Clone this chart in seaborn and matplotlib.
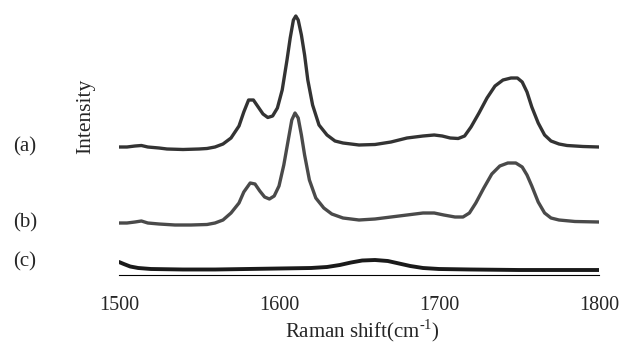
import matplotlib
matplotlib.use("Agg")
import matplotlib.pyplot as plt
import seaborn as sns
import pandas as pd

# Raman spectra (arbitrary intensity units, offset traces)
x_a = [1500, 1505, 1510, 1514, 1518, 1525, 1530, 1540, 1550, 1555, 1560, 1565, 1570, 1575,
       1578, 1581, 1584, 1587, 1590, 1593, 1596, 1599, 1602, 1605, 1607, 1609, 1610.5, 1612,
       1614, 1616, 1618, 1621, 1625, 1630, 1635, 1640, 1650, 1660, 1670, 1680, 1690, 1697,
       1702, 1707, 1712, 1716, 1720, 1725, 1730, 1735, 1740, 1745, 1749, 1752, 1755, 1758,
       1762, 1766, 1770, 1775, 1780, 1790, 1800]
y_a_px = [147, 147, 146, 145.5, 147, 148, 149, 149.5, 149, 148.5, 147, 144, 138, 126,
          112, 100, 100, 107, 114, 117.5, 116, 108, 90, 60, 38, 20, 16, 20,
          35, 55, 80, 105, 125, 135, 141, 143, 145, 144.5, 142, 138, 136, 135,
          136, 138, 138.5, 136, 127, 113, 98, 86, 80, 78, 78, 82, 92, 107,
          123, 135, 141, 144, 145.5, 146.5, 147]

x_b = [1500, 1505, 1510, 1514, 1518, 1525, 1535, 1545, 1555, 1560, 1565, 1570, 1575, 1578,
       1582, 1585, 1588, 1591, 1594, 1597, 1600, 1603, 1606, 1608, 1610, 1612, 1614, 1616,
       1619, 1623, 1628, 1633, 1640, 1650, 1660, 1670, 1680, 1690, 1697, 1703, 1710, 1715,
       1719, 1723, 1728, 1733, 1738, 1743, 1748, 1752, 1755, 1758, 1762, 1766, 1770, 1775,
       1785, 1800]
y_b_px = [223, 223, 222, 221, 223, 224, 225, 225, 224.5, 223, 220, 213, 203, 192,
          183, 184, 191, 197, 199, 196, 186, 165, 138, 120, 113, 118, 135, 155,
          180, 198, 208, 214, 218, 220, 219, 217, 215, 213, 213, 215, 217, 217,
          213, 203, 188, 174, 166, 163, 163, 167, 175, 186, 202, 213, 218, 220,
          221.5, 222]

x_c = [1500, 1503, 1507, 1512, 1520, 1540, 1560, 1580, 1600, 1620, 1630, 1638, 1645, 1652,
       1660, 1668, 1675, 1682, 1690, 1700, 1720, 1750, 1800]
y_c_px = [262, 264, 266.5, 268, 269, 269.5, 269.5, 269, 268.5, 268, 267, 265, 262.5, 260.5,
          260, 261, 263.5, 266, 268, 269, 269.5, 270, 270]

BASE = 275
int_a = [BASE - v for v in y_a_px]
int_b = [BASE - v for v in y_b_px]
int_c = [BASE - v for v in y_c_px]

trace_labels = ["(a)", "(b)", "(c)"]
xticks = [1500, 1600, 1700, 1800]

sns.set_style("white")
plt.rcParams["font.family"] = ["Liberation Serif", "DejaVu Serif"]
plt.rcParams["mathtext.fontset"] = "custom"
plt.rcParams["mathtext.rm"] = "Liberation Serif"

fig = plt.figure(figsize=(6.19, 3.43), dpi=100)
ax = fig.add_axes([119/619, 1 - 275/343, 480/619, 275/343])

df_a = pd.DataFrame({"x": x_a, "y": int_a})
df_b = pd.DataFrame({"x": x_b, "y": int_b})
df_c = pd.DataFrame({"x": x_c, "y": int_c})
kw = dict(sort=False, solid_joinstyle="round", solid_capstyle="round")
sns.lineplot(data=df_a, x="x", y="y", ax=ax, color="#333333", linewidth=2.4, **kw)
sns.lineplot(data=df_b, x="x", y="y", ax=ax, color="#4a4a4a", linewidth=2.4, **kw)
sns.lineplot(data=df_c, x="x", y="y", ax=ax, color="#1a1a1a", linewidth=2.8, **kw)

ax.set_xlim(1500, 1800)
ax.set_ylim(0, BASE)
ax.set_xticks(xticks)
ax.set_xticklabels([str(t) for t in xticks], fontsize=14.5)
ax.set_yticks([])
ax.tick_params(axis="x", direction="in", length=5, width=0.8, color="black", pad=15)
for s in ["left", "top", "right"]:
    ax.spines[s].set_visible(False)
ax.spines["bottom"].set_color("black")
ax.spines["bottom"].set_linewidth(0.8)
ax.set_xlabel("", fontsize=15)
fig.text(362/619, 1 - 331/343, "Raman shift(cm$^{\\mathregular{\u2010}1}$)",
         ha="center", va="center", fontsize=15)
ax.set_ylabel("")
fig.text(86/619, 1 - 116/343, "Intensity", rotation=90, ha="center", va="center", fontsize=15.5)

label_y = [int_a[0], int_b[0], int_c[0]]
for lab, yv in zip(trace_labels, label_y):
    ax.text(-0.22, yv, lab, transform=ax.get_yaxis_transform(), fontsize=15,
            ha="left", va="center")

fig.savefig("out.png", dpi=100)
